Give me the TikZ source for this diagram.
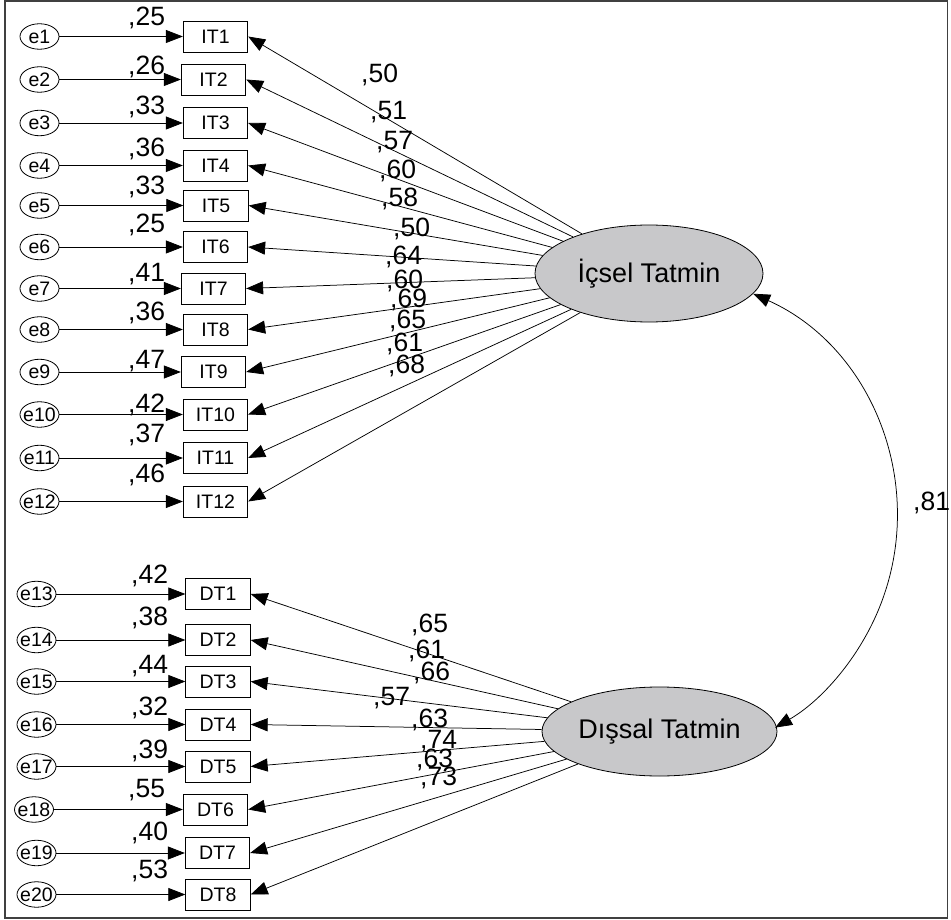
\documentclass[tikz,border=0pt]{standalone}
\usepackage{fontspec}
\setmainfont{Liberation Sans}
\usetikzlibrary{arrows.meta,shapes.geometric}
\definecolor{latentfill}{RGB}{200,200,202}
\begin{document}
\begin{tikzpicture}[x=1pt,y=1pt,
  errc/.style={ellipse,draw,line width=0.8pt,minimum width=39pt,minimum height=25.5pt,inner sep=0pt,font=\fontsize{19.5}{19.5}\selectfont},
  obs/.style={rectangle,draw,line width=0.8pt,minimum width=64.5pt,minimum height=31pt,inner sep=0pt,font=\fontsize{19.5}{19.5}\selectfont},
  lat/.style={ellipse,draw,fill=latentfill,line width=0.8pt,inner sep=0pt,font=\fontsize{27}{27}\selectfont},
  arr/.style={-{Triangle[length=17pt,width=13pt]},line width=0.75pt},
  biarr/.style={{Triangle[length=17pt,width=13pt]}-{Triangle[length=17pt,width=13pt]},line width=0.75pt},
  coef/.style={anchor=base west,inner sep=0pt,font=\fontsize{26.5}{26.5}\selectfont}]

\useasboundingbox (0,0) rectangle (951,-920);
\draw[line width=1.3pt,black!75] (5,-1) rectangle (947.5,-918);

% latent variables
\node[lat,minimum width=228pt,minimum height=97pt] (icsel) at (649,-273.5) {\makebox[0pt]{İçsel Tatmin}};
\node[lat,minimum width=235pt,minimum height=89pt] (dissal) at (659.5,-731.5) {\makebox[0pt]{Dışsal Tatmin}};

% intrinsic items
\foreach \i/\y/\bx in {1/36.5/215.5, 2/79.5/213.5, 3/123/215.5, 4/165.5/215.5, 5/205.5/216, 6/247/215.5, 7/288.5/213.5, 8/329.5/215.5, 9/372/213.5, 10/414.5/215.5, 11/458/215.5, 12/501.5/215.5} {
  \node[errc] (e\i) at (39.5,-\y) {\makebox[0pt]{e\i}};
  \node[obs] (IT\i) at (\bx,-\y) {IT\i};
  \draw[arr] (e\i) -- (IT\i);
  \draw[arr] (icsel) -- (IT\i.east);
}

% extrinsic items
\foreach \i/\k/\y/\ex/\bx in {13/1/594/36.5/218, 14/2/640/36.5/218, 15/3/681.5/36.5/218, 16/4/724.5/36.5/218, 17/5/766.5/36.5/218, 18/6/809.5/34/215.5, 19/7/853/36.5/217.5, 20/8/894.5/36.5/218} {
  \node[errc] (e\i) at (\ex,-\y) {\makebox[0pt]{e\i}};
  \node[obs] (DT\k) at (\bx,-\y) {DT\k};
  \draw[arr] (e\i) -- (DT\k);
  \draw[arr] (dissal) -- (DT\k.east);
}

% covariance
\draw[biarr] (icsel.-11) arc[start angle=65.8,end angle=-60,radius=244];

% error-path labels
\foreach \x/\y/\t [count=\n] in {130/26/25, 130/75/26, 130/115/33, 130/157/36, 130/195/33, 130/233/25, 130/282/41, 130/320/36, 130/368/47, 130/412/42, 130/442/37, 130/482/46,
  133/583/42, 133/625/38, 133/673/44, 133/715/32, 133/758/39, 130/797/55, 133/840/40, 133/878/53} {
  \node[coef] (r\n) at (\x-2,-\y) {,\t};
}

% loading labels
\foreach \x/\y/\t [count=\n] in {363/83/50, 372/120/51, 378/150/57, 381/179/60, 383/207/58, 395/237/50, 387/265/64, 388/288/60, 392/308/69, 391/328/65, 388/352/61, 390/373/68,
  413/632/65, 410/658/61, 415/680/66, 375/705/57, 413/727/63, 422/748/74, 418/767/63, 422/785/73} {
  \node[coef] (l\n) at (\x-2,-\y) {,\t};
}

\node[coef] (cov) at (913,-510) {,81};
\end{tikzpicture}
\end{document}
